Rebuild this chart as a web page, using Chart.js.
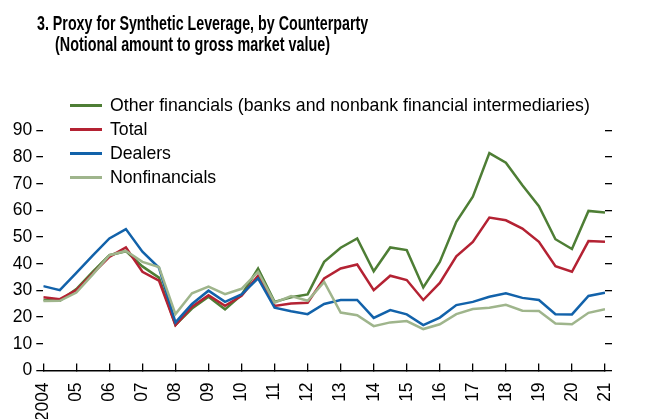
<!DOCTYPE html>
<html>
<head>
<meta charset="utf-8">
<script src="https://cdn.jsdelivr.net/npm/chart.js@4.4.0/dist/chart.umd.min.js"></script>
<style>
  body { margin: 0; background: #fff; }
  #wrap { position: relative; width: 645px; height: 419px; overflow: hidden; }
  #c { position: absolute; left: 0; top: 0; }
  .title { position: absolute; display: inline-block; white-space: nowrap; color: #000;
    font: bold 20.5px "Liberation Sans Narrow", "Liberation Sans", sans-serif; line-height: 20.5px;
    transform-origin: 0 0; }
  #legend { position: absolute; left: 70px; top: 93px; font: 17.7px "Liberation Sans", sans-serif; color: #000; }
  .item { height: 24.1px; display: flex; align-items: center; white-space: nowrap; }
  .swatch { width: 32px; height: 3px; margin-right: 8px; }
</style>
</head>
<body>
<div id="wrap">
  <canvas id="c" width="645" height="419"></canvas>
  <div class="title" id="t1" style="left:37px;top:12.6px">3. Proxy for Synthetic Leverage, by Counterparty</div>
  <div class="title" id="t2" style="left:55px;top:34.3px">(Notional amount to gross market value)</div>
  <div id="legend"></div>
</div>
<script>
// half-year observations, 2004 to 2021
const periods = [2004, 2004.5, 2005, 2005.5, 2006, 2006.5, 2007, 2007.5, 2008, 2008.5,
  2009, 2009.5, 2010, 2010.5, 2011, 2011.5, 2012, 2012.5, 2013, 2013.5,
  2014, 2014.5, 2015, 2015.5, 2016, 2016.5, 2017, 2017.5, 2018, 2018.5,
  2019, 2019.5, 2020, 2020.5, 2021];
const yearLabels = ['2004', '05', '06', '07', '08', '09', '10', '11', '12',
  '13', '14', '15', '16', '17', '18', '19', '20', '21'];

const otherFinancials = [26.4, 26.1, 30.5, 37, 43.2, 44.7, 39, 34.8, 17.0, 23.2,
  27.6, 22.9, 28.3, 38.2, 25.7, 27.4, 28.5, 40.7, 46, 49.5,
  37.2, 46.1, 45.1, 31.1, 40.7, 55.7, 65.1, 81.5, 77.9, 69.4,
  61.6, 49.2, 45.5, 59.8, 59.2];
const total = [27.4, 26.7, 30.1, 36.4, 42.6, 46.1, 37.0, 33.7, 17.0, 23.9,
  28.2, 24.2, 28.0, 35.5, 24.2, 25.1, 25.4, 34.5, 38.2, 39.7,
  30.1, 35.5, 33.9, 26.4, 32.8, 42.8, 48.2, 57.3, 56.3, 53.2,
  48.2, 39.1, 37.0, 48.5, 48.2];
const dealers = [31.6, 30.1, 36.6, 43.1, 49.5, 53.0, 44.5, 38.5, 18.0, 24.9,
  29.9, 25.7, 28.5, 34.5, 23.5, 22.2, 21.1, 24.9, 26.4, 26.4,
  19.7, 22.6, 21.0, 17.0, 19.8, 24.5, 25.7, 27.6, 28.9, 27.2,
  26.4, 21.1, 21.0, 27.9, 29.1];
const nonfinancials = [26.0, 26.1, 29.2, 36, 43.2, 44.8, 40.7, 38.8, 21.1, 28.9,
  31.4, 28.6, 30.6, 37.0, 25.4, 27.9, 26.1, 33.2, 21.7, 20.7,
  16.6, 18.0, 18.5, 15.5, 17.3, 21.1, 23.0, 23.5, 24.6, 22.4,
  22.3, 17.6, 17.3, 21.6, 22.9];

const FONT = '"Liberation Sans", Arial, sans-serif';

// squeeze the title lines to the condensed width of the original
function fitWidth(id, target) {
  const el = document.getElementById(id);
  el.style.transform = 'scaleX(' + (target / el.offsetWidth) + ')';
}
fitWidth('t1', 331);
fitWidth('t2', 275);

const toPoints = (vals) => periods.map((p, i) => ({ x: p, y: vals[i] }));

const series = [
  { label: 'Other financials (banks and nonbank financial intermediaries)', values: otherFinancials, color: '#4e7e35', order: 3 },
  { label: 'Total', values: total, color: '#b42233', order: 2 },
  { label: 'Dealers', values: dealers, color: '#1262aa', order: 1 },
  { label: 'Nonfinancials', values: nonfinancials, color: '#9fb58c', order: 0 }
];

const chart = new Chart(document.getElementById('c'), {
  type: 'line',
  data: {
    datasets: series.map(s => ({
      label: s.label,
      data: toPoints(s.values),
      borderColor: s.color,
      backgroundColor: s.color,
      borderWidth: 2.5,
      pointRadius: 0,
      tension: 0,
      order: s.order
    }))
  },
  options: {
    responsive: false,
    animation: false,
    layout: { padding: { top: 130.4, left: 0, right: 0, bottom: 0 } },
    plugins: {
      legend: { display: false },
      tooltip: { enabled: false }
    },
    scales: {
      x: {
        type: 'linear',
        min: 2004,
        max: 2021,
        afterFit: (scale) => { scale.height = 48.6; },
        border: { display: true, color: '#000', width: 1.5 },
        grid: { drawOnChartArea: false, tickLength: -7, color: '#000', lineWidth: 1.3 },
        ticks: {
          stepSize: 1,
          autoSkip: false,
          minRotation: 90,
          maxRotation: 90,
          padding: 19,
          color: '#000',
          font: { family: FONT, size: 17.5 },
          callback: (v) => yearLabels[Math.round(v - 2004)]
        }
      },
      y: {
        position: 'left',
        min: 0,
        max: 90,
        afterFit: (scale) => { scale.width = 43.3; },
        border: { display: false },
        grid: { drawOnChartArea: false, tickLength: 7, color: '#000', lineWidth: 1.3 },
        ticks: { stepSize: 10, padding: 4, color: '#000', font: { family: FONT, size: 17.5 } }
      },
      y2: {
        position: 'right',
        min: 0,
        max: 90,
        afterFit: (scale) => { scale.width = 12.3; },
        border: { display: false },
        grid: { drawOnChartArea: false, tickLength: 7, color: '#000', lineWidth: 1.3 },
        ticks: { stepSize: 10, display: false }
      }
    }
  }
});

// legend in the order of the datasets
const legend = document.getElementById('legend');
chart.data.datasets.forEach(ds => {
  const row = document.createElement('div');
  row.className = 'item';
  const sw = document.createElement('span');
  sw.className = 'swatch';
  sw.style.background = ds.borderColor;
  const txt = document.createElement('span');
  txt.textContent = ds.label;
  row.appendChild(sw);
  row.appendChild(txt);
  legend.appendChild(row);
});
</script>
</body>
</html>
